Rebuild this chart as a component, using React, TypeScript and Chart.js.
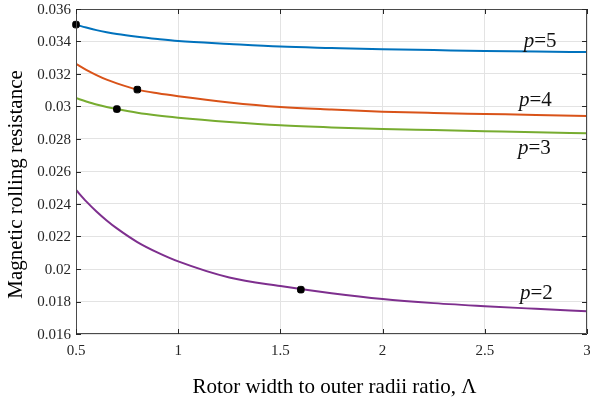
import React, { useEffect, useRef } from "react";
import { Chart, registerables } from "chart.js";

Chart.register(...registerables);

// ---- data ----
const xValues = [0.5, 0.55, 0.6, 0.65, 0.7, 0.8, 0.9, 1.0, 1.25, 1.5, 1.75, 2.0, 2.25, 2.5, 2.75, 3.0];
const p5Values = [0.03504, 0.03486, 0.0347, 0.03457, 0.03446, 0.03429, 0.03415, 0.03403, 0.03385, 0.03369, 0.0336, 0.03352, 0.03347, 0.03342, 0.03338, 0.03335];
const p4Values = [0.03262, 0.03225, 0.03193, 0.03165, 0.03142, 0.03104, 0.03081, 0.03063, 0.03025, 0.02997, 0.02981, 0.02968, 0.0296, 0.02954, 0.02948, 0.02942];
const p3Values = [0.03052, 0.03031, 0.03012, 0.02997, 0.02984, 0.02961, 0.02944, 0.02931, 0.02905, 0.02884, 0.02871, 0.02862, 0.02855, 0.02848, 0.02841, 0.02835];
const p2Values = [0.02486, 0.02416, 0.02354, 0.02299, 0.0225, 0.02166, 0.02101, 0.02047, 0.01948, 0.01895, 0.01851, 0.01815, 0.0179, 0.01771, 0.01755, 0.0174];

const markerX = [0.5, 0.8, 0.7, 1.6];
const markerY = [0.03504, 0.03104, 0.02984, 0.01873];

const seriesNames = ["p=5", "p=4", "p=3", "p=2"];
const seriesColors = ["#0072BD", "#D95319", "#77AC30", "#7E2F8E"];
const seriesNumbers = ["5", "4", "3", "2"];
// label anchors (data units): x, baseline y
const labelX = [2.69, 2.667, 2.662, 2.672];
const labelY = [0.03366, 0.03003, 0.02708, 0.01815];

const xTickValues = [0.5, 1, 1.5, 2, 2.5, 3];
const xTickLabels = ["0.5", "1", "1.5", "2", "2.5", "3"];
const yTickValues = [0.016, 0.018, 0.02, 0.022, 0.024, 0.026, 0.028, 0.03, 0.032, 0.034, 0.036];
const yTickLabels = ["0.016", "0.018", "0.02", "0.022", "0.024", "0.026", "0.028", "0.03", "0.032", "0.034", "0.036"];

const xTitle = "Rotor width to outer radii ratio, \u039B";
const yTitle = "Magnetic rolling resistance";

const FONT = "'Liberation Serif', 'Times New Roman', serif";

const boxPlugin = {
  id: "boxAndLabels",
  afterDatasetsDraw(chart: any) {
    const { ctx, chartArea, scales } = chart;
    const { left, right, top, bottom } = chartArea;
    const xs = scales.x;
    const ys = scales.y;
    ctx.save();
    // box
    ctx.strokeStyle = "#4a4a4a";
    ctx.lineWidth = 1;
    ctx.beginPath();
    ctx.rect(Math.round(left) + 0.5, Math.round(top) + 0.5, Math.round(right - left) - 1, Math.round(bottom - top) - 1);
    ctx.stroke();
    // inward ticks
    const tl = 5;
    ctx.strokeStyle = "#262626";
    ctx.beginPath();
    xTickValues.forEach((v) => {
      const px = Math.round(xs.getPixelForValue(v)) + 0.5;
      ctx.moveTo(px, bottom);
      ctx.lineTo(px, bottom - tl);
      ctx.moveTo(px, top);
      ctx.lineTo(px, top + tl);
    });
    yTickValues.forEach((v) => {
      const py = Math.round(ys.getPixelForValue(v)) + 0.5;
      ctx.moveTo(left, py);
      ctx.lineTo(left + tl, py);
      ctx.moveTo(right, py);
      ctx.lineTo(right - tl, py);
    });
    ctx.stroke();
    ctx.restore();
  },
  afterDraw(chart: any) {
    const { ctx, scales, chartArea } = chart;
    const xs = scales.x;
    const ys = scales.y;
    ctx.save();
    // x tick labels
    ctx.fillStyle = "#262626";
    ctx.font = "15px " + FONT;
    ctx.textAlign = "center";
    ctx.textBaseline = "alphabetic";
    xTickValues.forEach((v, i) => {
      ctx.fillText(xTickLabels[i], xs.getPixelForValue(v), chartArea.bottom + 21);
    });
    // y tick labels
    ctx.textAlign = "right";
    ctx.textBaseline = "middle";
    yTickValues.forEach((v, i) => {
      ctx.fillText(yTickLabels[i], chartArea.left - 5, ys.getPixelForValue(v) + 1);
    });
    // axis titles
    ctx.fillStyle = "#000";
    ctx.font = "21px " + FONT;
    ctx.textAlign = "center";
    ctx.textBaseline = "alphabetic";
    ctx.fillText(xTitle, (chartArea.left + chartArea.right) / 2 + 3, 393);
    ctx.save();
    ctx.translate(22, (chartArea.top + chartArea.bottom) / 2 + 13);
    ctx.rotate(-Math.PI / 2);
    ctx.fillText(yTitle, 0, 0);
    ctx.restore();
    // series labels
    ctx.fillStyle = "#111";
    ctx.textAlign = "left";
    seriesNumbers.forEach((n, i) => {
      const px = xs.getPixelForValue(labelX[i]);
      const py = ys.getPixelForValue(labelY[i]);
      ctx.font = "italic 21px " + FONT;
      ctx.fillText("p", px, py);
      const w = ctx.measureText("p").width;
      ctx.font = "21px " + FONT;
      ctx.fillText("=" + n, px + w, py);
    });
    ctx.restore();
  },
};

export default function App() {
  const canvasRef = useRef<HTMLCanvasElement | null>(null);

  useEffect(() => {
    const canvas = canvasRef.current;
    if (!canvas) return;
    const lineSets = [p5Values, p4Values, p3Values, p2Values].map((vals, i) => ({
      type: "line" as const,
      label: seriesNames[i],
      data: xValues.map((x, j) => ({ x, y: vals[j] })),
      borderColor: seriesColors[i],
      backgroundColor: seriesColors[i],
      borderWidth: 2,
      pointRadius: 0,
      cubicInterpolationMode: "monotone" as const,
      fill: false,
      order: 2,
    }));
    const markers = {
      type: "scatter" as const,
      label: "markers",
      data: markerX.map((x, j) => ({ x, y: markerY[j] })),
      backgroundColor: "#000",
      borderColor: "#000",
      borderWidth: 1,
      pointRadius: 3.8,
      pointStyle: "rectRounded" as any,
      showLine: false,
      clip: false,
      order: 1,
    };
    const chart = new Chart(canvas, {
      type: "line",
      data: { datasets: [...lineSets, markers] as any },
      options: {
        animation: false,
        responsive: false,
        devicePixelRatio: 1,
        layout: { autoPadding: false, padding: { top: 9, right: 3, left: 0, bottom: 0 } },
        plugins: { legend: { display: false }, tooltip: { enabled: false } },
        scales: {
          x: {
            type: "linear",
            min: 0.5,
            max: 3,
            afterFit: (s: any) => {
              s.height = 65;
            },
            afterBuildTicks: (s: any) => {
              s.ticks = xTickValues.map((v) => ({ value: v }));
            },
            ticks: { display: false },
            grid: { color: "#e3e3e3", lineWidth: 1, drawTicks: false },
            border: { display: false },
            title: { display: false },
          },
          y: {
            type: "linear",
            min: 0.016,
            max: 0.036,
            afterFit: (s: any) => {
              s.width = 76;
            },
            afterBuildTicks: (s: any) => {
              s.ticks = yTickValues.map((v) => ({ value: v }));
            },
            ticks: { display: false },
            grid: { color: "#e3e3e3", lineWidth: 1, drawTicks: false },
            border: { display: false },
            title: { display: false },
          },
        },
      },
      plugins: [boxPlugin],
    });
    return () => chart.destroy();
  }, []);

  return (
    <div style={{ position: "fixed", left: 0, top: 0, width: 590, height: 399, background: "#fff" }}>
      <canvas ref={canvasRef} width={590} height={399} style={{ display: "block", width: 590, height: 399 }} />
    </div>
  );
}
